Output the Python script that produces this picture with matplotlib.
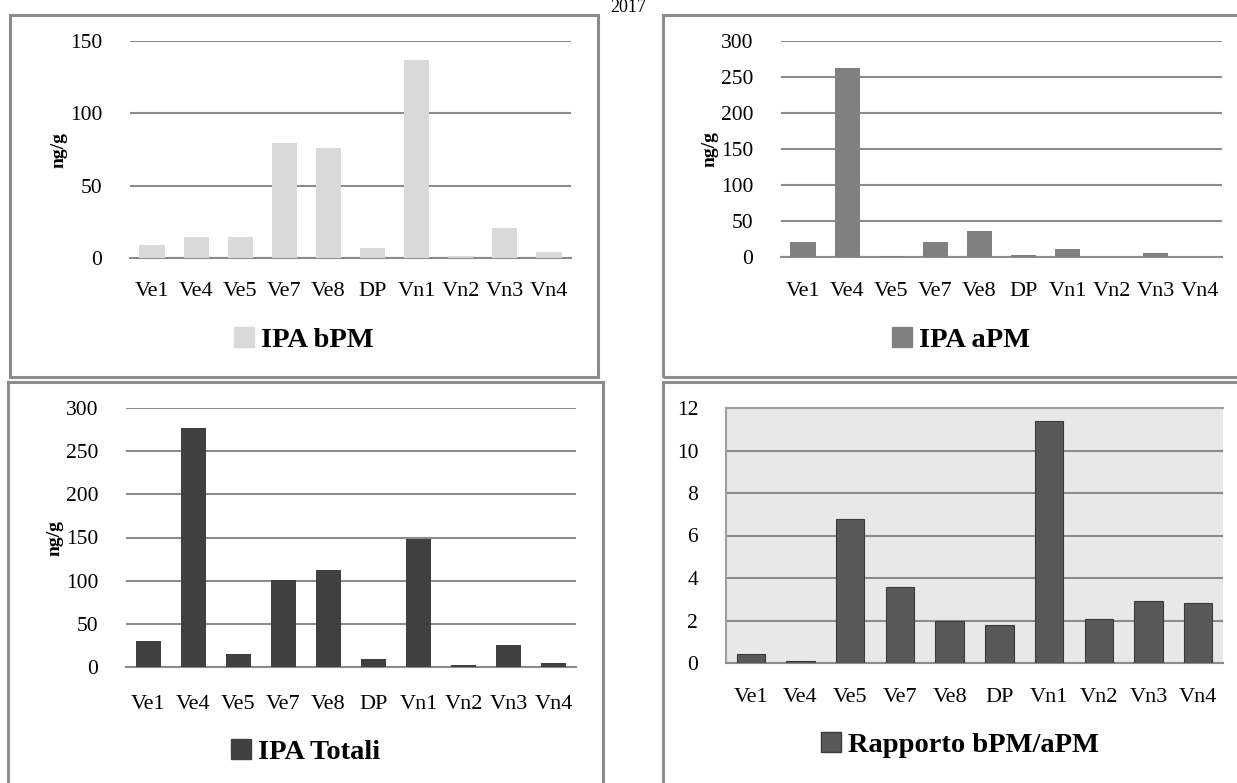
import matplotlib
matplotlib.use('Agg')
import matplotlib.pyplot as plt
from matplotlib.patches import Rectangle, Patch

W, H = 1237, 783

sites = ['Ve1', 'Ve4', 'Ve5', 'Ve7', 'Ve8', 'DP', 'Vn1', 'Vn2', 'Vn3', 'Vn4']
ipa_bpm = [9.2, 14.3, 14.3, 79.8, 76.2, 6.7, 136.6, 1.6, 20.5, 4.4]
ipa_apm = [20.4, 262.9, 0.8, 20.4, 36.2, 2.8, 10.7, 0.4, 5.6, 0.6]
ipa_tot = [30.1, 276.8, 15.4, 101.2, 112.0, 9.3, 148.6, 2.3, 25.9, 4.6]
ratio = [0.44, 0.11, 6.76, 3.59, 1.96, 1.80, 11.37, 2.07, 2.92, 2.84]

plt.rcParams['font.family'] = ['Liberation Serif', 'DejaVu Serif']

fig = plt.figure(figsize=(W / 100, H / 100), dpi=100)


def box(x0, y0, x1, y1):
    # pixel box (top-left origin) -> figure fraction rect
    return [x0 / W, 1 - y1 / H, (x1 - x0) / W, (y1 - y0) / H]


def frame(x0, y0, x1, y1):
    r = Rectangle((x0 / W, 1 - y1 / H), (x1 - x0) / W, (y1 - y0) / H,
                  transform=fig.transFigure, fill=False,
                  edgecolor='#8c8c8c', linewidth=2.2, zorder=0)
    fig.patches.append(r)


def panel(rect, values, color, ymax, step, label, legend_xy, xpad=17,
          ylabel=True, shaded=False, ylabel_x=None, edge=None):
    ax = fig.add_axes(box(*rect))
    x = range(len(sites))
    ax.bar(x, values, width=0.57, color=color, zorder=3,
           edgecolor=edge if edge else color, linewidth=0.8 if edge else 0)
    ax.set_xlim(-0.5, len(sites) - 0.5)
    ax.set_ylim(0, ymax)
    ax.set_yticks(range(0, ymax + 1, step))
    ax.set_xticks(list(x))
    ax.set_xticklabels(sites)
    ax.yaxis.grid(True, color='#8c8c8c', linewidth=1.5, zorder=1)
    ax.tick_params(length=0)
    ax.tick_params(axis='x', pad=xpad, labelsize=16)
    ax.tick_params(axis='y', pad=20, labelsize=15.5)
    for s in ['left', 'right', 'top']:
        ax.spines[s].set_visible(False)
    ax.spines['bottom'].set_color('#8c8c8c')
    ax.spines['bottom'].set_linewidth(1.5)
    ax.set_axisbelow(True)
    if shaded:
        ax.set_facecolor('#e8e8e8')
        for s in ['left', 'top']:
            ax.spines[s].set_visible(True)
            ax.spines[s].set_color('#a0a0a0')
            ax.spines[s].set_linewidth(1.5)
    if ylabel:
        fig.text(ylabel_x / W, 1 - ((rect[1] + rect[3]) / 2) / H, 'ng/g',
                 rotation=90, ha='center', va='center',
                 fontsize=14, fontweight='bold')
    handle = Patch(facecolor=color, edgecolor=edge if edge else color)
    fig.legend([handle], [label], loc='center',
               bbox_to_anchor=(legend_xy[0] / W, 1 - legend_xy[1] / H),
               frameon=False, handlelength=0.7, handleheight=0.7,
               handletextpad=0.25,
               prop={'size': 20.5, 'weight': 'bold'})
    return ax


frame(10, 15, 598, 377)
frame(663, 15, 1259, 377)
frame(8, 382, 603, 800)
frame(663, 382, 1259, 800)

panel((130, 41, 571, 258), ipa_bpm, '#d9d9d9', 150, 50, 'IPA bPM',
      (304, 340), xpad=17, ylabel_x=59)
panel((781, 41, 1222, 257), ipa_apm, '#808080', 300, 50, 'IPA aPM',
      (961, 340), xpad=18, ylabel_x=710)
panel((126, 408, 576, 667), ipa_tot, '#404040', 300, 50, 'IPA Totali',
      (306, 752), xpad=20, ylabel_x=55)
panel((726, 408, 1223, 663), ratio, '#595959', 12, 2, 'Rapporto bPM/aPM',
      (960, 745), xpad=18, ylabel=False, shaded=True, edge='#3a3a3a')

fig.text(628 / W, 1 - 12 / H, '2017', ha='center', va='baseline', fontsize=13)

fig.savefig('out.png', dpi=100)
